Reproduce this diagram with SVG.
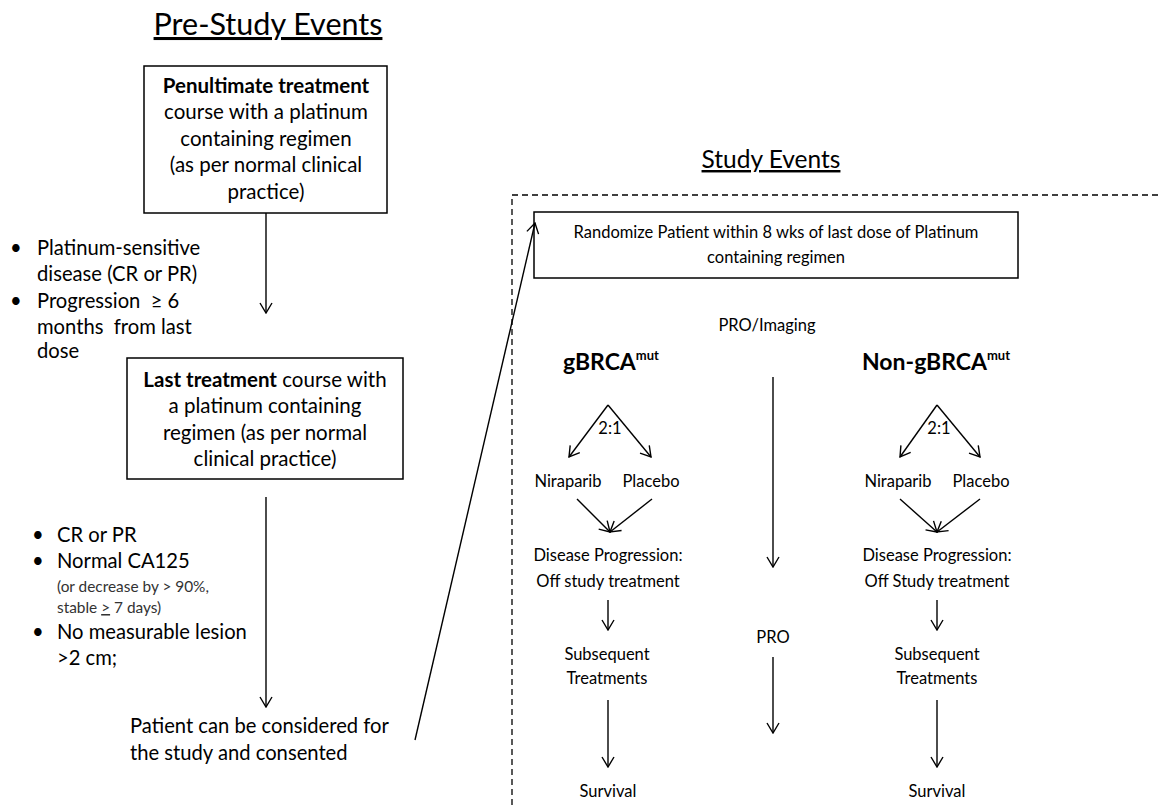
<svg xmlns="http://www.w3.org/2000/svg" width="1158" height="805" viewBox="0 0 1158 805">
<style>
text{font-family:Lato,"Liberation Sans",sans-serif;fill:#000}
.t1{font-size:30.5px;text-decoration:underline}
.t2{font-size:24.5px;text-decoration:underline}
.b{font-size:20.5px}
.l{font-size:20.2px}
.s{font-size:15.4px;fill:#333}
.r{font-size:16.5px}
.h{font-size:23px;font-weight:bold}
.c{text-anchor:middle}
.box{fill:#fff;stroke:#000;stroke-width:1.5}
.cn line{stroke:#000;stroke-width:1.4}
</style>
<defs>
<marker id="ah" viewBox="0 0 12 14" refX="11" refY="7" markerWidth="12" markerHeight="14" orient="auto" markerUnits="userSpaceOnUse">
<path d="M1,1 L11,7 L1,13" fill="none" stroke="#000" stroke-width="1.4"/>
</marker>
</defs>
<rect width="1158" height="805" fill="#fff"/>
<text class="t1" x="268" y="35" text-anchor="middle">Pre-Study Events</text>
<text class="t2" x="771" y="168" text-anchor="middle">Study Events</text>
<rect x="512" y="195" width="660" height="630" fill="none" stroke="#000" stroke-width="1.3" stroke-dasharray="6,4"/>
<g id="penultimate">
<rect class="box" x="144" y="66" width="243" height="147"/>
<text class="b c" x="266" y="93"><tspan font-weight="bold">Penultimate treatment</tspan></text>
<text class="b c" x="266" y="119">course with a platinum</text>
<text class="b c" x="266" y="146">containing regimen</text>
<text class="b c" x="266" y="172">(as per normal clinical</text>
<text class="b c" x="266" y="199">practice)</text>
</g>
<g id="criteria1">
<text class="l" x="10" y="255">•</text><text class="l" x="37" y="255">Platinum-sensitive</text>
<text class="l" x="37" y="281">disease (CR or PR)</text>
<text class="l" x="10" y="308">•</text><text class="l" x="37" y="308" xml:space="preserve">Progression  ≥ 6</text>
<text class="l" x="37" y="334" xml:space="preserve">months  from last</text>
<text class="l" x="37" y="358">dose</text>
</g>
<g id="last">
<rect class="box" x="127" y="358" width="276" height="121"/>
<text class="b c" x="265" y="387"><tspan font-weight="bold">Last treatment</tspan> course with</text>
<text class="b c" x="265" y="413">a platinum containing</text>
<text class="b c" x="265" y="440">regimen (as per normal</text>
<text class="b c" x="265" y="466">clinical practice)</text>
</g>
<g id="criteria2">
<text class="l" x="32" y="542">•</text><text class="l" x="57" y="542">CR or PR</text>
<text class="l" x="32" y="568">•</text><text class="l" x="57" y="568">Normal CA125</text>
<text class="s" x="57" y="592">(or decrease by &gt; 90%,</text>
<text class="s" x="57" y="613">stable <tspan text-decoration="underline">&gt;</tspan> 7 days)</text>
<text class="l" x="32" y="639">•</text><text class="l" x="57" y="639">No measurable lesion</text>
<text class="l" x="57" y="665">&gt;2 cm;</text>
</g>
<g id="patient">
<text class="l" x="130" y="733">Patient can be considered for</text>
<text class="l" x="130" y="760">the study and consented</text>
</g>
<g id="randomize">
<rect class="box" x="534" y="212" width="484" height="66"/>
<text class="r c" x="776" y="238">Randomize Patient within 8 wks of last dose of Platinum</text>
<text class="r c" x="776" y="263">containing regimen</text>
</g>
<g id="proimaging"><text class="r c" x="767" y="331">PRO/Imaging</text></g>
<g id="gbrca"><text class="h" x="563" y="370">gBRCA<tspan font-size="13" dy="-10">mut</tspan></text></g>
<g id="nongbrca"><text class="h" x="862" y="370">Non-gBRCA<tspan font-size="13" dy="-10">mut</tspan></text></g>
<g id="ratio1"><text class="r c" x="610" y="434">2:1</text></g>
<g id="ratio2"><text class="r c" x="939" y="434">2:1</text></g>
<g id="nir1"><text class="r c" x="568" y="487">Niraparib</text></g>
<g id="pla1"><text class="r c" x="651" y="487">Placebo</text></g>
<g id="nir2"><text class="r c" x="898" y="487">Niraparib</text></g>
<g id="pla2"><text class="r c" x="981" y="487">Placebo</text></g>
<g id="dp1"><text class="r c" x="608" y="561">Disease Progression:</text><text class="r c" x="608" y="587">Off study treatment</text></g>
<g id="dp2"><text class="r c" x="937" y="561">Disease Progression:</text><text class="r c" x="937" y="587">Off Study treatment</text></g>
<g id="sub1"><text class="r c" x="607" y="660">Subsequent</text><text class="r c" x="607" y="684">Treatments</text></g>
<g id="sub2"><text class="r c" x="937" y="660">Subsequent</text><text class="r c" x="937" y="684">Treatments</text></g>
<g id="pro"><text class="r c" x="773" y="643">PRO</text></g>
<g id="surv1"><text class="r c" x="608" y="797">Survival</text></g>
<g id="surv2"><text class="r c" x="937" y="797">Survival</text></g>
<g id="connectors" class="cn">
<line x1="266" y1="213" x2="266" y2="313" marker-end="url(#ah)"/>
<line x1="266" y1="497" x2="266" y2="707" marker-end="url(#ah)"/>
<line x1="415" y1="740" x2="535" y2="223" marker-end="url(#ah)"/>
<line x1="773" y1="377" x2="773" y2="567" marker-end="url(#ah)"/>
<line x1="773" y1="657" x2="773" y2="733" marker-end="url(#ah)"/>
<line x1="608" y1="405" x2="569" y2="457" marker-end="url(#ah)"/>
<line x1="608" y1="405" x2="651" y2="457" marker-end="url(#ah)"/>
<line x1="577" y1="499" x2="610" y2="532" marker-end="url(#ah)"/>
<line x1="652" y1="499" x2="610" y2="532" marker-end="url(#ah)"/>
<line x1="608" y1="600" x2="608" y2="630" marker-end="url(#ah)"/>
<line x1="608" y1="700" x2="608" y2="767" marker-end="url(#ah)"/>
<line x1="937" y1="405" x2="900" y2="457" marker-end="url(#ah)"/>
<line x1="937" y1="405" x2="980" y2="457" marker-end="url(#ah)"/>
<line x1="900" y1="499" x2="937" y2="532" marker-end="url(#ah)"/>
<line x1="980" y1="499" x2="937" y2="532" marker-end="url(#ah)"/>
<line x1="937" y1="600" x2="937" y2="630" marker-end="url(#ah)"/>
<line x1="937" y1="700" x2="937" y2="767" marker-end="url(#ah)"/>
</g>
</svg>
